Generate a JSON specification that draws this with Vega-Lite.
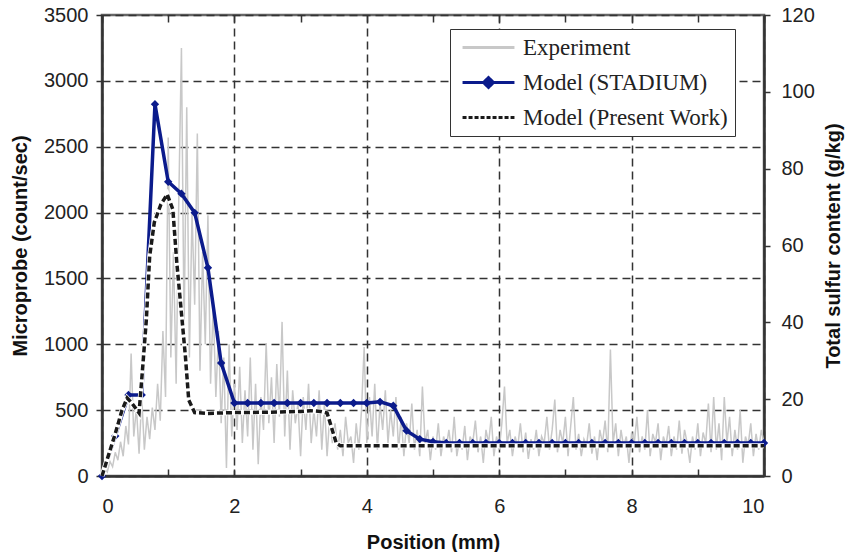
{
"$schema":"https://vega.github.io/schema/vega-lite/v6.json",
"width":662,"height":461,
"autosize":{"type":"none"},
"padding":{"left":102,"top":15,"right":84,"bottom":76},
"background":"white",
"config":{
"view":{"stroke":"#666","strokeWidth":2.5},
"axis":{"labelFont":"Liberation Sans","labelFontSize":20,"labelColor":"#222","titleFont":"Liberation Sans","titleFontSize":20,"titleFontWeight":"bold","titleColor":"#111","domainColor":"#333","domainWidth":2.5,"tickColor":"#333","tickWidth":1.5,"tickSize":6,"gridColor":"#333","gridDash":[8,5],"gridWidth":1.5,"gridOpacity":1}
},
"datasets":{
"exp":[
{"x":0.00,"count":20},{"x":0.04,"count":60},{"x":0.08,"count":30},{"x":0.12,"count":110},{"x":0.16,"count":70},{"x":0.20,"count":180},{"x":0.24,"count":120},{"x":0.28,"count":260},{"x":0.32,"count":150},{"x":0.36,"count":380},
{"x":0.40,"count":240},{"x":0.44,"count":930},{"x":0.48,"count":300},{"x":0.52,"count":520},{"x":0.56,"count":170},{"x":0.60,"count":600},{"x":0.64,"count":200},{"x":0.68,"count":450},{"x":0.72,"count":280},{"x":0.76,"count":520},
{"x":0.80,"count":350},{"x":0.84,"count":700},{"x":0.88,"count":420},{"x":0.92,"count":1100},{"x":0.96,"count":600},{"x":1.00,"count":2570},{"x":1.04,"count":900},{"x":1.08,"count":1700},{"x":1.12,"count":700},{"x":1.16,"count":2100},
{"x":1.20,"count":3250},{"x":1.24,"count":1100},{"x":1.28,"count":2800},{"x":1.32,"count":900},{"x":1.36,"count":2000},{"x":1.40,"count":1300},{"x":1.44,"count":2600},{"x":1.48,"count":800},{"x":1.52,"count":1700},{"x":1.56,"count":1000},
{"x":1.60,"count":1980},{"x":1.64,"count":700},{"x":1.68,"count":1300},{"x":1.72,"count":600},{"x":1.76,"count":1100},{"x":1.80,"count":400},{"x":1.84,"count":900},{"x":1.88,"count":60},{"x":1.92,"count":1000},{"x":1.96,"count":300},
{"x":2.00,"count":700},{"x":2.04,"count":350},{"x":2.08,"count":830},{"x":2.12,"count":250},{"x":2.16,"count":650},{"x":2.20,"count":300},{"x":2.24,"count":900},{"x":2.28,"count":200},{"x":2.32,"count":700},{"x":2.36,"count":90},
{"x":2.40,"count":600},{"x":2.44,"count":350},{"x":2.48,"count":1010},{"x":2.52,"count":400},{"x":2.56,"count":750},{"x":2.60,"count":250},{"x":2.64,"count":850},{"x":2.68,"count":450},{"x":2.72,"count":1170},{"x":2.76,"count":300},
{"x":2.80,"count":800},{"x":2.84,"count":200},{"x":2.88,"count":650},{"x":2.92,"count":400},{"x":2.96,"count":550},{"x":3.00,"count":150},{"x":3.04,"count":600},{"x":3.08,"count":350},{"x":3.12,"count":700},{"x":3.16,"count":250},
{"x":3.20,"count":500},{"x":3.24,"count":300},{"x":3.28,"count":650},{"x":3.32,"count":200},{"x":3.36,"count":550},{"x":3.40,"count":150},{"x":3.44,"count":450},{"x":3.48,"count":250},{"x":3.52,"count":400},{"x":3.56,"count":200},
{"x":3.60,"count":350},{"x":3.64,"count":150},{"x":3.68,"count":450},{"x":3.72,"count":250},{"x":3.76,"count":300},{"x":3.80,"count":100},{"x":3.84,"count":400},{"x":3.88,"count":200},{"x":3.92,"count":500},{"x":3.96,"count":980},
{"x":4.00,"count":250},{"x":4.04,"count":600},{"x":4.08,"count":300},{"x":4.12,"count":700},{"x":4.16,"count":200},{"x":4.20,"count":550},{"x":4.24,"count":350},{"x":4.28,"count":650},{"x":4.32,"count":250},{"x":4.36,"count":500},
{"x":4.40,"count":300},{"x":4.44,"count":600},{"x":4.48,"count":200},{"x":4.52,"count":450},{"x":4.56,"count":150},{"x":4.60,"count":400},{"x":4.64,"count":250},{"x":4.68,"count":550},{"x":4.72,"count":200},{"x":4.76,"count":350},
{"x":4.80,"count":150},{"x":4.84,"count":680},{"x":4.88,"count":250},{"x":4.92,"count":350},{"x":4.96,"count":120},{"x":5.00,"count":300},{"x":5.04,"count":200},{"x":5.08,"count":400},{"x":5.12,"count":150},{"x":5.16,"count":300},
{"x":5.20,"count":220},{"x":5.24,"count":350},{"x":5.28,"count":180},{"x":5.32,"count":450},{"x":5.36,"count":150},{"x":5.40,"count":280},{"x":5.44,"count":200},{"x":5.48,"count":380},{"x":5.52,"count":120},{"x":5.56,"count":300},
{"x":5.60,"count":250},{"x":5.64,"count":420},{"x":5.68,"count":180},{"x":5.72,"count":300},{"x":5.76,"count":100},{"x":5.80,"count":350},{"x":5.84,"count":250},{"x":5.88,"count":450},{"x":5.92,"count":150},{"x":5.96,"count":300},
{"x":6.00,"count":200},{"x":6.04,"count":400},{"x":6.08,"count":680},{"x":6.12,"count":250},{"x":6.16,"count":350},{"x":6.20,"count":150},{"x":6.24,"count":300},{"x":6.28,"count":220},{"x":6.32,"count":400},{"x":6.36,"count":180},
{"x":6.40,"count":330},{"x":6.44,"count":130},{"x":6.48,"count":280},{"x":6.52,"count":200},{"x":6.56,"count":350},{"x":6.60,"count":150},{"x":6.64,"count":300},{"x":6.68,"count":250},{"x":6.72,"count":450},{"x":6.76,"count":200},
{"x":6.80,"count":350},{"x":6.84,"count":580},{"x":6.88,"count":180},{"x":6.92,"count":350},{"x":6.96,"count":250},{"x":7.00,"count":450},{"x":7.04,"count":150},{"x":7.08,"count":380},{"x":7.12,"count":600},{"x":7.16,"count":200},
{"x":7.20,"count":320},{"x":7.24,"count":150},{"x":7.28,"count":280},{"x":7.32,"count":230},{"x":7.36,"count":400},{"x":7.40,"count":170},{"x":7.44,"count":300},{"x":7.48,"count":120},{"x":7.52,"count":350},{"x":7.56,"count":250},
{"x":7.60,"count":420},{"x":7.64,"count":180},{"x":7.68,"count":960},{"x":7.72,"count":250},{"x":7.76,"count":400},{"x":7.80,"count":150},{"x":7.84,"count":350},{"x":7.88,"count":220},{"x":7.92,"count":300},{"x":7.96,"count":100},
{"x":8.00,"count":330},{"x":8.04,"count":250},{"x":8.08,"count":450},{"x":8.12,"count":180},{"x":8.16,"count":300},{"x":8.20,"count":200},{"x":8.24,"count":500},{"x":8.28,"count":150},{"x":8.32,"count":320},{"x":8.36,"count":250},
{"x":8.40,"count":400},{"x":8.44,"count":120},{"x":8.48,"count":300},{"x":8.52,"count":230},{"x":8.56,"count":380},{"x":8.60,"count":150},{"x":8.64,"count":300},{"x":8.68,"count":200},{"x":8.72,"count":420},{"x":8.76,"count":170},
{"x":8.80,"count":350},{"x":8.84,"count":250},{"x":8.88,"count":100},{"x":8.92,"count":300},{"x":8.96,"count":200},{"x":9.00,"count":400},{"x":9.04,"count":150},{"x":9.08,"count":330},{"x":9.12,"count":250},{"x":9.16,"count":550},
{"x":9.20,"count":180},{"x":9.24,"count":600},{"x":9.28,"count":200},{"x":9.32,"count":400},{"x":9.36,"count":120},{"x":9.40,"count":600},{"x":9.44,"count":250},{"x":9.48,"count":450},{"x":9.52,"count":150},{"x":9.56,"count":350},
{"x":9.60,"count":200},{"x":9.64,"count":500},{"x":9.68,"count":100},{"x":9.72,"count":300},{"x":9.76,"count":230},{"x":9.80,"count":400},{"x":9.84,"count":150},{"x":9.88,"count":320},{"x":9.92,"count":200},{"x":9.96,"count":350},
{"x":10.00,"count":250}
],
"stadium":[
{"x":0,"g":0},{"x":0.2,"g":10.4},{"x":0.4,"g":21.1},{"x":0.6,"g":21.1},{"x":0.8,"g":96.8},{"x":1.0,"g":76.6},{"x":1.2,"g":73.5},{"x":1.4,"g":68.5},{"x":1.6,"g":54.2},{"x":1.8,"g":29.4},
{"x":2.0,"g":19.0},{"x":2.2,"g":19.0},{"x":2.4,"g":19.0},{"x":2.6,"g":19.0},{"x":2.8,"g":19.0},{"x":3.0,"g":19.0},{"x":3.2,"g":19.0},{"x":3.4,"g":19.0},{"x":3.6,"g":19.0},{"x":3.8,"g":19.0},
{"x":4.0,"g":19.0},{"x":4.2,"g":19.3},{"x":4.4,"g":18.3},{"x":4.6,"g":11.8},{"x":4.8,"g":9.6},{"x":5.0,"g":8.9},{"x":5.2,"g":8.6},{"x":5.4,"g":8.6},{"x":5.6,"g":8.6},{"x":5.8,"g":8.6},
{"x":6.0,"g":8.6},{"x":6.2,"g":8.6},{"x":6.4,"g":8.6},{"x":6.6,"g":8.6},{"x":6.8,"g":8.6},{"x":7.0,"g":8.6},{"x":7.2,"g":8.6},{"x":7.4,"g":8.6},{"x":7.6,"g":8.6},{"x":7.8,"g":8.6},
{"x":8.0,"g":8.6},{"x":8.2,"g":8.6},{"x":8.4,"g":8.6},{"x":8.6,"g":8.6},{"x":8.8,"g":8.6},{"x":9.0,"g":8.6},{"x":9.2,"g":8.6},{"x":9.4,"g":8.6},{"x":9.6,"g":8.6},{"x":9.8,"g":8.6},{"x":10.0,"g":8.6}
],
"present":[
{"x":0,"g":0},{"x":0.1,"g":5.5},{"x":0.2,"g":11},{"x":0.3,"g":17},{"x":0.38,"g":20.3},{"x":0.45,"g":19},{"x":0.56,"g":16.4},{"x":0.62,"g":29.5},{"x":0.67,"g":40.7},{"x":0.72,"g":57.2},
{"x":0.79,"g":66},{"x":0.89,"g":70.7},{"x":0.985,"g":73.3},{"x":1.07,"g":69.4},{"x":1.13,"g":55.5},{"x":1.2,"g":42.4},{"x":1.26,"g":31.1},{"x":1.31,"g":19.8},{"x":1.4,"g":16.5},{"x":1.6,"g":16.3},
{"x":2.0,"g":16.5},{"x":2.5,"g":16.6},{"x":3.0,"g":16.8},{"x":3.15,"g":17.0},{"x":3.3,"g":16.8},{"x":3.4,"g":16.4},{"x":3.54,"g":8.5},{"x":3.6,"g":7.9},{"x":10,"g":7.9}
]
},
"layer":[
{"data":{"name":"exp"},"mark":{"type":"line","strokeWidth":1.5,"clip":true},
 "encoding":{
  "x":{"field":"x","type":"quantitative","scale":{"domain":[0,10],"nice":false},"axis":{"values":[0,1,2,3,4,5,6,7,8,9,10],"labelExpr":"datum.value % 2 === 1 ? '' : datum.label","gridOpacity":{"condition":{"test":"datum.value % 2 === 1","value":0},"value":1},"tickSize":-7,"title":"Position (mm)","grid":true,"labelPadding":27,"titlePadding":16}},
  "y":{"field":"count","type":"quantitative","scale":{"domain":[0,3500],"nice":false},"axis":{"values":[0,500,1000,1500,2000,2500,3000,3500],"format":"d","title":"Microprobe (count/sec)","grid":true,"labelPadding":8,"titlePadding":13}},
  "color":{"datum":"Experiment","type":"nominal","scale":{"domain":["Experiment","Model (STADIUM)","Model (Present Work)"],"range":["#c8c8c8","#0b1b8c","#1a1a1a"]},
   "legend":{"title":null,"orient":"none","legendX":348,"legendY":14,"symbolType":"M-2.36,0H2.36","symbolSize":484,"symbolStrokeWidth":3,"symbolOffset":20,"labelFont":"Liberation Serif","labelFontSize":23,"labelColor":"#222","labelLimit":400,"fillColor":"white","strokeColor":"#333","padding":6,"labelOffset":22,"rowPadding":10,
    "encode":{"symbols":{"update":{
      "strokeDash":{"signal":"datum.value === 'Model (Present Work)' ? [4,2] : [1,0]"},
      "shape":{"signal":"datum.value === 'Model (STADIUM)' ? 'M-2.36,0H2.36M0,-0.45L0.45,0L0,0.45L-0.45,0Z' : 'M-2.36,0H2.36'"},
      "fill":{"signal":"datum.value === 'Model (STADIUM)' ? '#0b1b8c' : 'transparent'"}
    }}}}}
 }},
{"encoding":{
  "x":{"field":"x","type":"quantitative","scale":{"domain":[0,10],"nice":false},"axis":{"orient":"top","values":[0,1,2,3,4,5,6,7,8,9,10],"labels":false,"title":null,"grid":false,"domain":false,"tickSize":-7}},
  "y":{"field":"g","type":"quantitative","scale":{"domain":[0,120],"nice":false},"axis":{"orient":"right","values":[0,20,40,60,80,100,120],"title":"Total sulfur content (g/kg)","titleAngle":270,"grid":false,"labelPadding":11,"titlePadding":29}}},
 "layer":[
  {"data":{"name":"stadium"},"mark":{"type":"line","strokeWidth":3.5},"encoding":{"color":{"datum":"Model (STADIUM)","type":"nominal"}}},
  {"data":{"name":"stadium"},"mark":{"type":"point","shape":"diamond","filled":true,"size":70,"opacity":1},"encoding":{"color":{"datum":"Model (STADIUM)","type":"nominal"}}},
  {"data":{"name":"present"},"mark":{"type":"line","strokeWidth":5,"color":"white"},"encoding":{}},
  {"data":{"name":"present"},"mark":{"type":"line","strokeWidth":3.5,"strokeDash":[6,3]},"encoding":{"color":{"datum":"Model (Present Work)","type":"nominal"}}}
 ]}
],
"resolve":{"scale":{"y":"independent"},"axis":{"x":"independent"}}
}
